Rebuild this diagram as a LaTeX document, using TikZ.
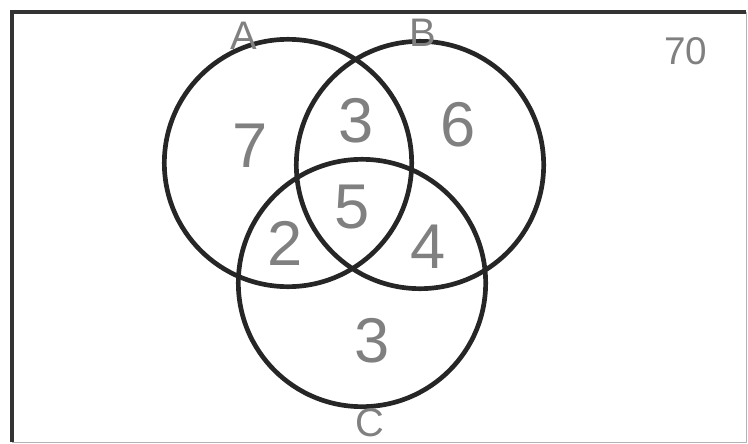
\documentclass[tikz,border=0pt]{standalone}
\usepackage{fontspec}
\setmainfont{Liberation Sans}
\usepackage{tikz}

\begin{document}
\begin{tikzpicture}[
    x=0.03cm, y=-0.03cm,
    set/.style={draw=black!85, line width=4pt, circle, minimum size=7.42cm, inner sep=0pt},
    hand/.style={text=black!50, inner sep=0pt},
    num/.style={hand, font=\fontsize{54}{54}\selectfont},
    lbl/.style={hand, font=\fontsize{34}{34}\selectfont},
  ]
  \useasboundingbox (0,0) rectangle (748,444);
  %% ---- Frame ----
  \draw[black!30, line width=0.8pt] (746,12) -- (746,442) -- (12,442);
  \draw[black!80, line width=3.2pt] (12,442) -- (12,12) -- (746,12);
  %% ---- Sets ----
  \node[set] (cA) at (288,163) {};
  \node[set] (cB) at (420,165) {};
  \node[set] (cC) at (362,283) {};
  %% ---- Set labels ----
  \node[lbl] (lA) at (244,36) {A};
  \node[lbl] (lB) at (423,33) {B};
  \node[lbl] (lC) at (370,423) {C};
  \node[lbl, font=\fontsize{33}{33}\selectfont] (univ) at (686,51) {70};
  %% ---- Region counts ----
  \node[num] (nA)   at (250,146) {7};
  \node[num] (nAB)  at (356,121) {3};
  \node[num] (nB)   at (458,125) {6};
  \node[num] (nABC) at (352,207) {5};
  \node[num] (nAC)  at (285,243) {2};
  \node[num] (nBC)  at (428,247) {4};
  \node[num] (nC)   at (372,341) {3};
\end{tikzpicture}
\end{document}
